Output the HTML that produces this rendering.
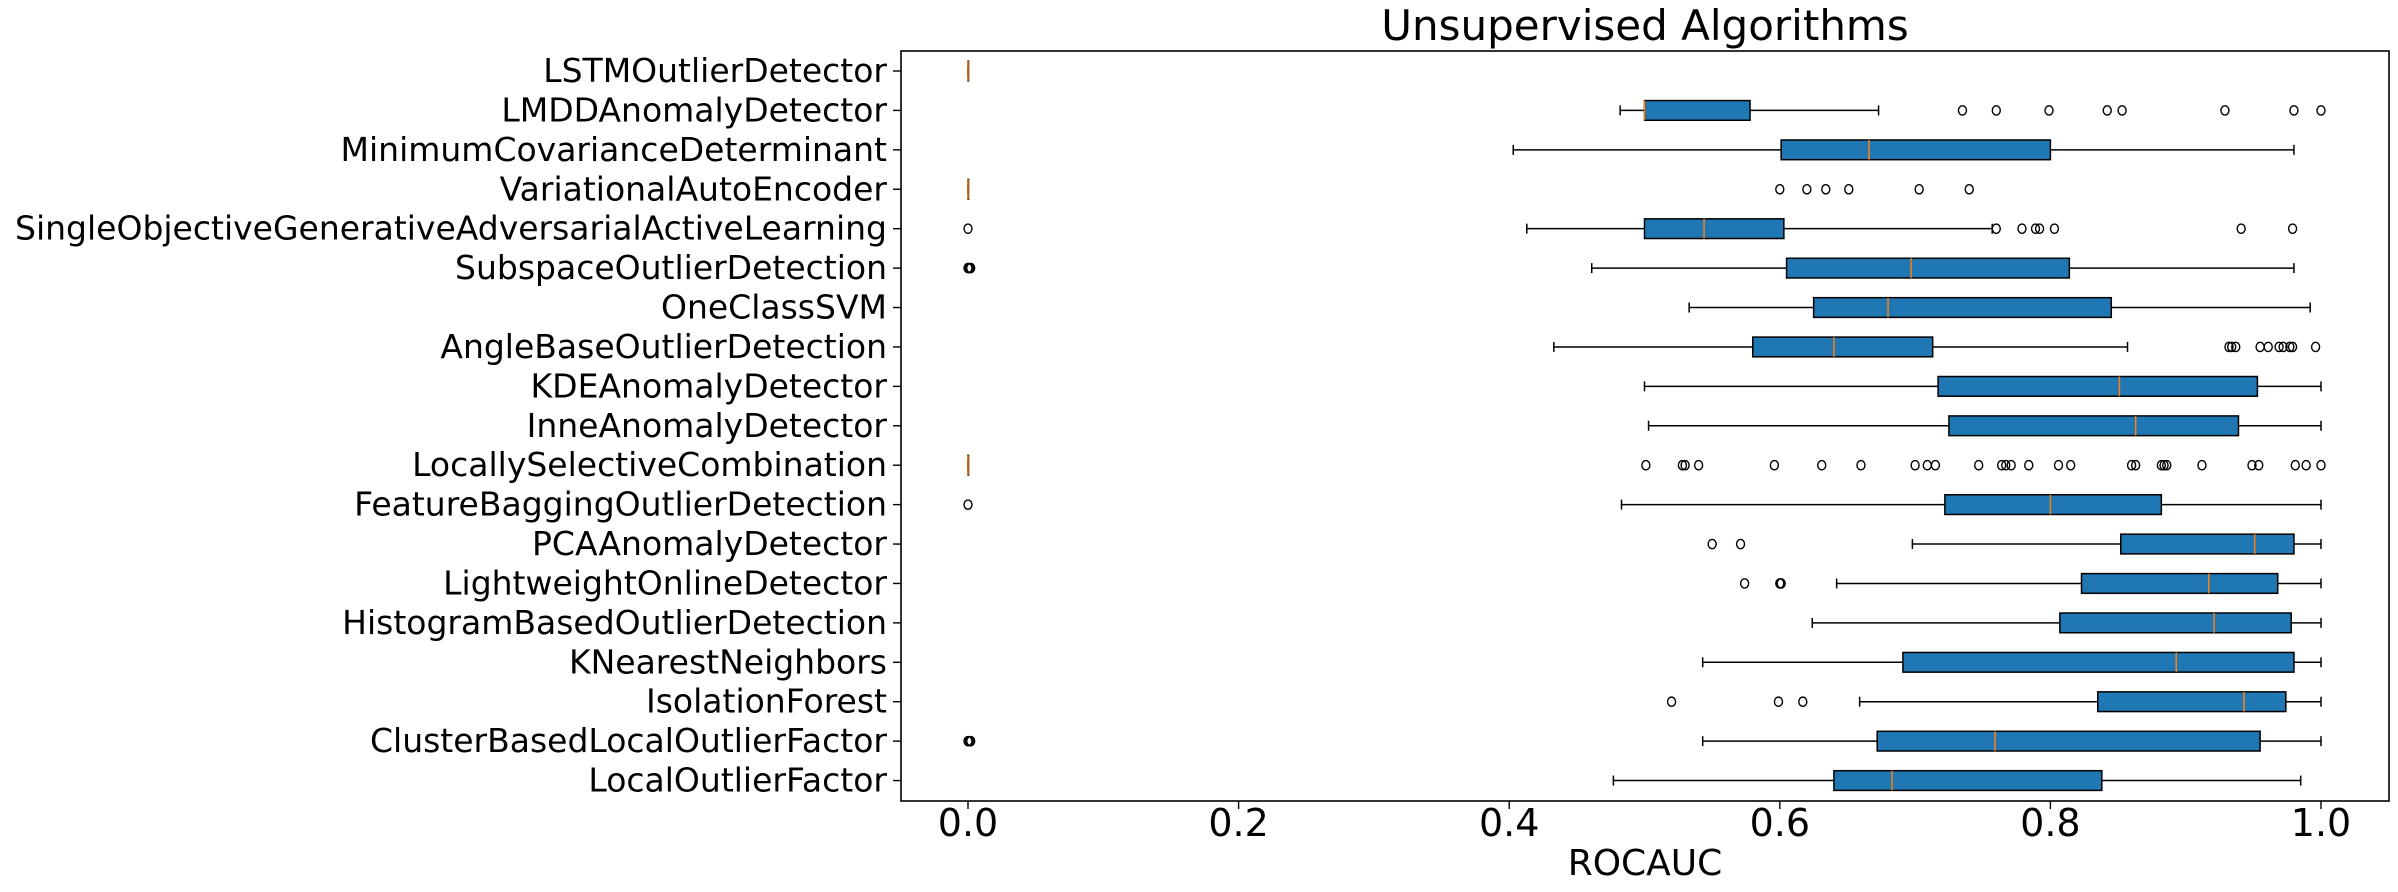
<!DOCTYPE html>
<html><head><meta charset="utf-8"><style>
html,body{margin:0;padding:0;background:#fff;}
svg{display:block;font-family:"DejaVu Sans","Liberation Sans",sans-serif;}
</style></head><body>
<svg id="chart" width="2398" height="892" viewBox="0 0 2398 892" xmlns="http://www.w3.org/2000/svg">
<text x="1645" y="40" font-size="42" text-anchor="middle">Unsupervised Algorithms</text>
<text x="1645" y="875" font-size="36" text-anchor="middle">ROCAUC</text>
<g id="marks"></g>
<rect x="901" y="51" width="1488" height="750" fill="none" stroke="#000" stroke-width="1.6"/>
</svg>
<script>
const categories = ["LSTMOutlierDetector","LMDDAnomalyDetector","MinimumCovarianceDeterminant","VariationalAutoEncoder","SingleObjectiveGenerativeAdversarialActiveLearning","SubspaceOutlierDetection","OneClassSVM","AngleBaseOutlierDetection","KDEAnomalyDetector","InneAnomalyDetector","LocallySelectiveCombination","FeatureBaggingOutlierDetection","PCAAnomalyDetector","LightweightOnlineDetector","HistogramBasedOutlierDetection","KNearestNeighbors","IsolationForest","ClusterBasedLocalOutlierFactor","LocalOutlierFactor"];
const whiskerLow = [0,0.482,0.403,0,0.413,0.461,0.533,0.433,0.500,0.503,0,0.483,0.698,0.642,0.624,0.543,0.659,0.543,0.477];
const q1 = [0,0.500,0.601,0,0.500,0.605,0.625,0.580,0.717,0.725,0,0.722,0.852,0.823,0.807,0.691,0.835,0.672,0.640];
const median = [0,0.500,0.666,0,0.544,0.697,0.680,0.640,0.851,0.863,0,0.800,0.951,0.917,0.921,0.893,0.943,0.759,0.683];
const q3 = [0,0.578,0.800,0,0.603,0.814,0.845,0.713,0.953,0.939,0,0.882,0.980,0.968,0.978,0.980,0.974,0.955,0.838];
const whiskerHigh = [0,0.673,0.980,0,0.757,0.980,0.992,0.857,1.0,1.0,0,1.0,1.0,1.0,1.0,1.0,1.0,1.0,0.985];
const fliers = [
 [],
 [0.735,0.760,0.799,0.842,0.853,0.929,0.980,1.0],
 [],
 [0.600,0.620,0.634,0.651,0.703,0.740],
 [0,0.760,0.779,0.789,0.792,0.803,0.941,0.979],
 [0,0.001,0.002],
 [],
 [0.932,0.934,0.937,0.955,0.961,0.969,0.972,0.977,0.979,0.996],
 [],
 [],
 [0.501,0.528,0.530,0.540,0.596,0.631,0.660,0.700,0.709,0.715,0.747,0.764,0.767,0.771,0.784,0.806,0.815,0.860,0.863,0.882,0.884,0.886,0.912,0.949,0.954,0.981,0.989,1.0],
 [0],
 [0.550,0.571],
 [0.574,0.600,0.601],
 [],
 [],
 [0.520,0.599,0.617],
 [0,0.001,0.002],
 []
];
const xTicks = [0,0.2,0.4,0.6,0.8,1.0];
const xTickLabels = ["0.0","0.2","0.4","0.6","0.8","1.0"];

const X0 = 968, XS = 1353, Y0 = 71, YS = 39.42, BH = 19.7;
function xs(v){ return X0 + XS*v; }
function ys(i){ return Y0 + YS*i; }
const NS = "http://www.w3.org/2000/svg";
const g = document.getElementById('marks');
function mk(tag, attrs, parent){
  const e = document.createElementNS(NS, tag);
  for (const k in attrs) e.setAttribute(k, attrs[k]);
  (parent||g).appendChild(e);
  return e;
}
xTicks.forEach((t,i)=>{
  const tk = mk('line',{x1:xs(t),x2:xs(t),y1:801,y2:809,stroke:'#000','stroke-width':1.4});
  
  
  const tl = mk('text',{x:xs(t),y:836,'font-size':38,'text-anchor':'middle'});
  tl.textContent = xTickLabels[i];
  
  
});
categories.forEach((c,i)=>{
  const y = ys(i);
  const tk = mk('line',{x1:893,x2:901,y1:y,y2:y,stroke:'#000','stroke-width':1.4});
  
  
  const tl = mk('text',{x:887,y:y+11,'font-size':33,'text-anchor':'end'});
  tl.textContent = c;
  
  
  const grp = mk('g',{});
  
  
  const sw = 1.5;
  mk('line',{x1:xs(whiskerLow[i]),x2:xs(q1[i]),y1:y,y2:y,stroke:'#000','stroke-width':sw},grp);
  mk('line',{x1:xs(q3[i]),x2:xs(whiskerHigh[i]),y1:y,y2:y,stroke:'#000','stroke-width':sw},grp);
  mk('line',{x1:xs(whiskerLow[i]),x2:xs(whiskerLow[i]),y1:y-5,y2:y+5,stroke:'#000','stroke-width':sw},grp);
  mk('line',{x1:xs(whiskerHigh[i]),x2:xs(whiskerHigh[i]),y1:y-5,y2:y+5,stroke:'#000','stroke-width':sw},grp);
  mk('rect',{x:xs(q1[i]),y:y-BH/2,width:Math.max(0.5,xs(q3[i])-xs(q1[i])),height:BH,fill:'#1f77b4',stroke:'#000','stroke-width':sw},grp);
  mk('line',{x1:xs(median[i]),x2:xs(median[i]),y1:y-BH/2,y2:y+BH/2,stroke:'#ff7f0e','stroke-width':1.5},grp);
  fliers[i].forEach(v=>{
    const o = mk('ellipse',{cx:xs(v),cy:y,rx:4,ry:4.6,fill:'none',stroke:'#000','stroke-width':1.4},grp);
    
    
  });
});
</script>
</body></html>
